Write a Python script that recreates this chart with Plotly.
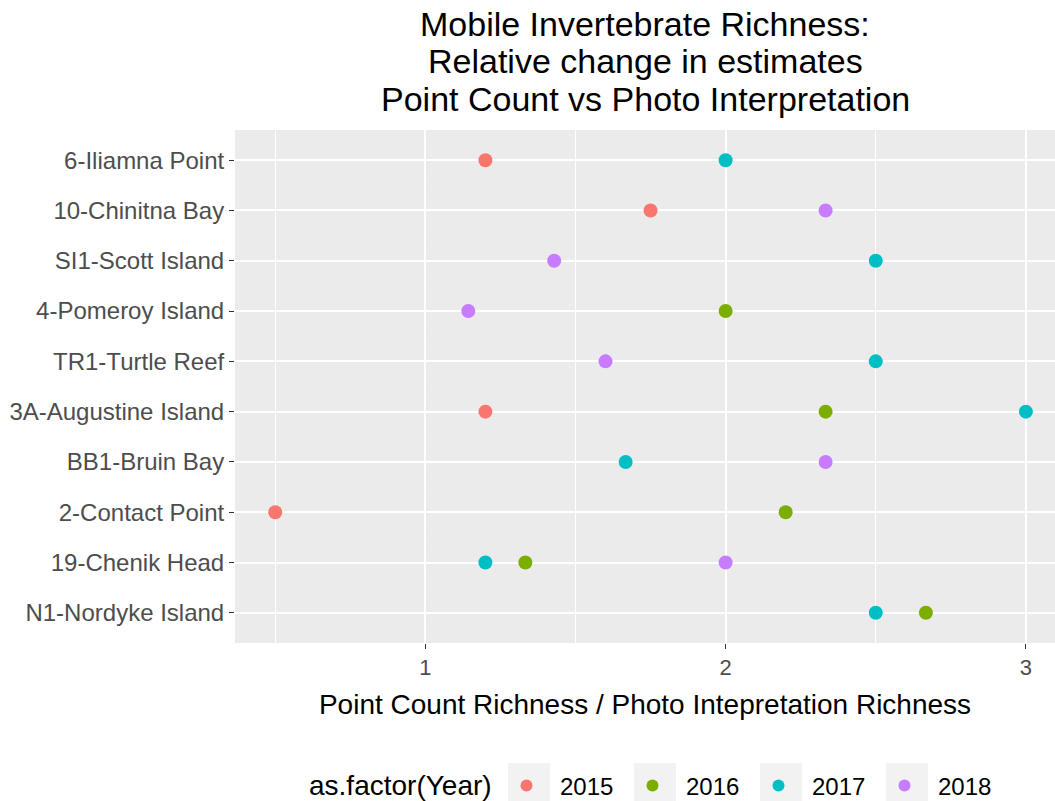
import plotly.graph_objects as go

# Sites, listed top to bottom
sites = [
    "6-Iliamna Point",
    "10-Chinitna Bay",
    "SI1-Scott Island",
    "4-Pomeroy Island",
    "TR1-Turtle Reef",
    "3A-Augustine Island",
    "BB1-Bruin Bay",
    "2-Contact Point",
    "19-Chenik Head",
    "N1-Nordyke Island",
]

# Ratio of point-count richness to photo-interpretation richness, by year
sites_2015 = ["6-Iliamna Point", "10-Chinitna Bay", "3A-Augustine Island", "2-Contact Point"]
ratio_2015 = [1.2, 1.75, 1.2, 0.5]

sites_2016 = ["4-Pomeroy Island", "3A-Augustine Island", "2-Contact Point", "19-Chenik Head", "N1-Nordyke Island"]
ratio_2016 = [2.0, 2.333, 2.2, 1.333, 2.667]

sites_2017 = ["6-Iliamna Point", "SI1-Scott Island", "TR1-Turtle Reef", "3A-Augustine Island",
              "BB1-Bruin Bay", "19-Chenik Head", "N1-Nordyke Island"]
ratio_2017 = [2.0, 2.5, 2.5, 3.0, 1.667, 1.2, 2.5]

sites_2018 = ["10-Chinitna Bay", "SI1-Scott Island", "4-Pomeroy Island", "TR1-Turtle Reef",
              "BB1-Bruin Bay", "19-Chenik Head"]
ratio_2018 = [2.333, 1.429, 1.143, 1.6, 2.333, 2.0]

years = ["2015", "2016", "2017", "2018"]
colors = ["#F8766D", "#7CAE00", "#00BFC4", "#C77CFF"]
series = [(sites_2015, ratio_2015), (sites_2016, ratio_2016),
          (sites_2017, ratio_2017), (sites_2018, ratio_2018)]

title_lines = [
    "Mobile Invertebrate Richness:",
    "Relative change in estimates",
    "Point Count vs Photo Interpretation",
]

x_ticks = [1, 2, 3]
x_minor = [0.5, 1.5, 2.5]
ref_line = 1

FONT = "Liberation Sans, Arial, sans-serif"
W, H = 1055, 801
ML, MR, MT, MB = 235, 0, 130, 158
PLOT_H = H - MT - MB
PLOT_W = W - ML - MR

# legend geometry (pixels)
LEG_ROW = 786          # vertical centre of the legend row
LEG_FIRST_KEY = 527    # centre of the first key
LEG_PITCH = 126        # distance between consecutive keys
KEY_BOX = 42           # side of the grey key background


def paper_y(px):
    """Convert a pixel row (from the top of the page) to paper y."""
    return 1 + (MT - px) / PLOT_H


def paper_x(px):
    """Convert a pixel column (from the left of the page) to paper x."""
    return (px - ML) / PLOT_W


fig = go.Figure()
for yr, col, (s, r) in zip(years, colors, series):
    fig.add_trace(go.Scatter(
        x=r, y=s, mode="markers", name=yr,
        marker=dict(color=col, size=14, line=dict(width=0)),
        cliponaxis=False,
    ))

# dashed reference line at ratio = 1
fig.add_shape(type="line", xref="x", yref="paper", x0=ref_line, x1=ref_line, y0=0, y1=1,
              line=dict(color="#A9A9A9", width=1.3, dash="dash"), layer="below")

# three-line title, centred over the panel
for line, ypx in zip(title_lines, [24.5, 61.5, 98.5]):
    fig.add_annotation(
        text=line, xref="paper", yref="paper",
        x=0.5, xanchor="center", y=paper_y(ypx), yanchor="middle",
        showarrow=False, font=dict(size=34, family=FONT, color="black"),
    )

# legend title, to the left of the keys
fig.add_annotation(
    text="as.factor(Year)", xref="paper", yref="paper",
    x=paper_x(LEG_FIRST_KEY - 21 - 12), xanchor="right",
    y=paper_y(LEG_ROW - 1), yanchor="middle",
    showarrow=False, font=dict(size=28, family=FONT, color="black"),
)

# grey key backgrounds
for i in range(len(years)):
    cx = LEG_FIRST_KEY + 2 + i * LEG_PITCH
    fig.add_shape(
        type="rect", xref="paper", yref="paper",
        x0=paper_x(cx - KEY_BOX / 2), x1=paper_x(cx + KEY_BOX / 2),
        y0=paper_y(LEG_ROW - 2 - KEY_BOX / 2), y1=paper_y(LEG_ROW - 2 + KEY_BOX / 2),
        fillcolor="#F2F2F2", line=dict(width=0), layer="below",
    )

fig.update_layout(
    width=W, height=H,
    margin=dict(l=ML, r=MR, t=MT, b=MB),
    paper_bgcolor="white",
    plot_bgcolor="#EBEBEB",
    font=dict(family=FONT, color="#000000"),
    xaxis=dict(
        range=[0.366, 3.097],
        tickvals=x_ticks,
        ticktext=[str(v) for v in x_ticks],
        showgrid=True, gridcolor="white", gridwidth=2,
        minor=dict(tickvals=x_minor, showgrid=True, gridcolor="white", gridwidth=1, ticks=""),
        zeroline=False,
        ticks="outside", ticklen=5, tickwidth=1.2, tickcolor="#333333",
        tickfont=dict(size=22, color="#4D4D4D", family=FONT),
        title=dict(text="Point Count Richness / Photo Intepretation Richness",
                   font=dict(size=28, color="black", family=FONT), standoff=14),
        showline=False,
    ),
    yaxis=dict(
        type="category",
        categoryorder="array",
        categoryarray=sites[::-1],
        range=[-0.6, len(sites) - 0.4],
        showgrid=True, gridcolor="white", gridwidth=2,
        zeroline=False,
        ticks="outside", ticklen=5, tickwidth=1.2, tickcolor="#333333",
        tickfont=dict(size=24, color="#4D4D4D", family=FONT),
        showline=False,
    ),
    legend=dict(
        orientation="h",
        x=(LEG_FIRST_KEY - 34) / W, xanchor="left", xref="container",
        y=(H - LEG_ROW) / H, yanchor="middle", yref="container",
        font=dict(size=24, color="black", family=FONT),
        itemsizing="constant",
        itemwidth=57,
        entrywidth=54,
        bgcolor="rgba(0,0,0,0)",
    ),
    showlegend=True,
)

fig.write_html("out.html")
